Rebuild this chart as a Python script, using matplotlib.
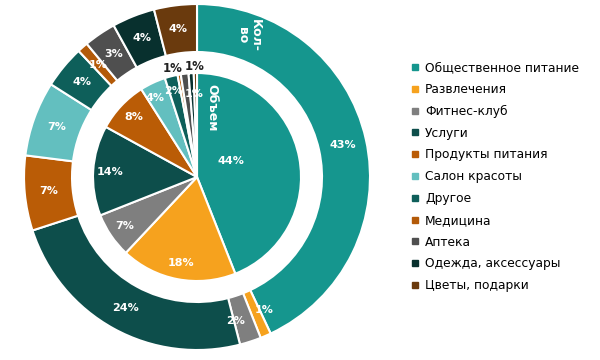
import numpy as np
import matplotlib.pyplot as plt
from matplotlib.lines import Line2D

categories = ["Общественное питание", "Развлечения", "Фитнес-клуб", "Услуги",
              "Продукты питания", "Салон красоты", "Другое", "Медицина",
              "Аптека", "Одежда, аксессуары", "Цветы, подарки"]
# outer ring: "Кол-во", inner pie: "Объем" (percent)
kolvo = [43, 1, 2, 24, 7, 7, 4, 1, 3, 4, 4]
obem = [44, 18, 7, 14, 8, 4, 2, 0.5, 1.2, 0.8, 0.5]
obem_labels = ["44%", "18%", "7%", "14%", "8%", "4%", "2%", "1%", "1%", "1%", ""]

colors = ["#15968E", "#F6A21E", "#7F7F7F", "#0D4E4B", "#BA5C06", "#63BFBF",
          "#0E5F5A", "#B35A08", "#4F4F4F", "#08302E", "#6A3A0D"]

fig = plt.figure(figsize=(6, 3.6), dpi=100)
ax = fig.add_axes([0.0367, 0.0222, 0.5833, 0.9722])
ax.axis("off")

r_in = 104 / 173
w_out = 48 / 173

wedges_out, _ = ax.pie(kolvo, radius=1, colors=colors, startangle=90, counterclock=False,
                       wedgeprops=dict(width=w_out, edgecolor="white", linewidth=1.5))
wedges_in, _ = ax.pie(obem, radius=r_in, colors=colors, startangle=90, counterclock=False,
                      wedgeprops=dict(edgecolor="white", linewidth=1.5))

lim = 175 / 173
ax.set_xlim(-lim, lim)
ax.set_ylim(-lim, lim)
ax.set_aspect("equal")


def mid_angle(w, shift=0):
    return np.deg2rad((w.theta1 + w.theta2) / 2 + shift)


lbl = dict(color="white", fontsize=8, fontweight="bold", ha="center", va="center")
r_lab = 1 - w_out / 2
for i, (w, v) in enumerate(zip(wedges_out, kolvo)):
    a = mid_angle(w, {1: 3.5, 2: -3}.get(i, 0))
    ax.text(r_lab * np.cos(a), r_lab * np.sin(a), f"{v}%", **lbl)

# label placement inside the inner pie: (radius fraction, angle shift)
in_pos = {0: (0.36, 15), 5: (0.86, 3), 6: (0.86, 1), 7: (0.8, -8)}
for i, (w, t) in enumerate(zip(wedges_in, obem_labels)):
    if not t:
        continue
    if i in (8, 9):
        a = mid_angle(w, {8: 6, 9: -2}[i])
        r = r_in + 0.04
        ax.text(r * np.cos(a), r * np.sin(a), t, color="#222222", fontsize=8.5,
                fontweight="bold", ha="center", va="center")
    else:
        f, s = in_pos.get(i, (0.84, 0))
        a = mid_angle(w, s)
        ax.text(f * r_in * np.cos(a), f * r_in * np.sin(a), t, **lbl)

# series name labels
ax.text((249 - 197) / 173, (177 - 35) / 173, "Кол-\nво", rotation=-90, color="white",
        fontsize=9, fontweight="bold", ha="center", va="center", linespacing=1.0)
ax.text((212 - 197) / 173, (177 - 108) / 173, "Объем", rotation=-90, color="white",
        fontsize=9, fontweight="bold", ha="center", va="center")

handles = [Line2D([], [], marker="s", linestyle="none", markersize=5,
                  markerfacecolor=c, markeredgecolor=c) for c in colors]
fig.legend(handles, categories, loc="upper left", bbox_to_anchor=(0.686, 0.83),
           frameon=False, fontsize=8.8, handlelength=0.6, handletextpad=0.5,
           labelspacing=0.72, borderaxespad=0, borderpad=0)

fig.savefig("out.png", dpi=100)
